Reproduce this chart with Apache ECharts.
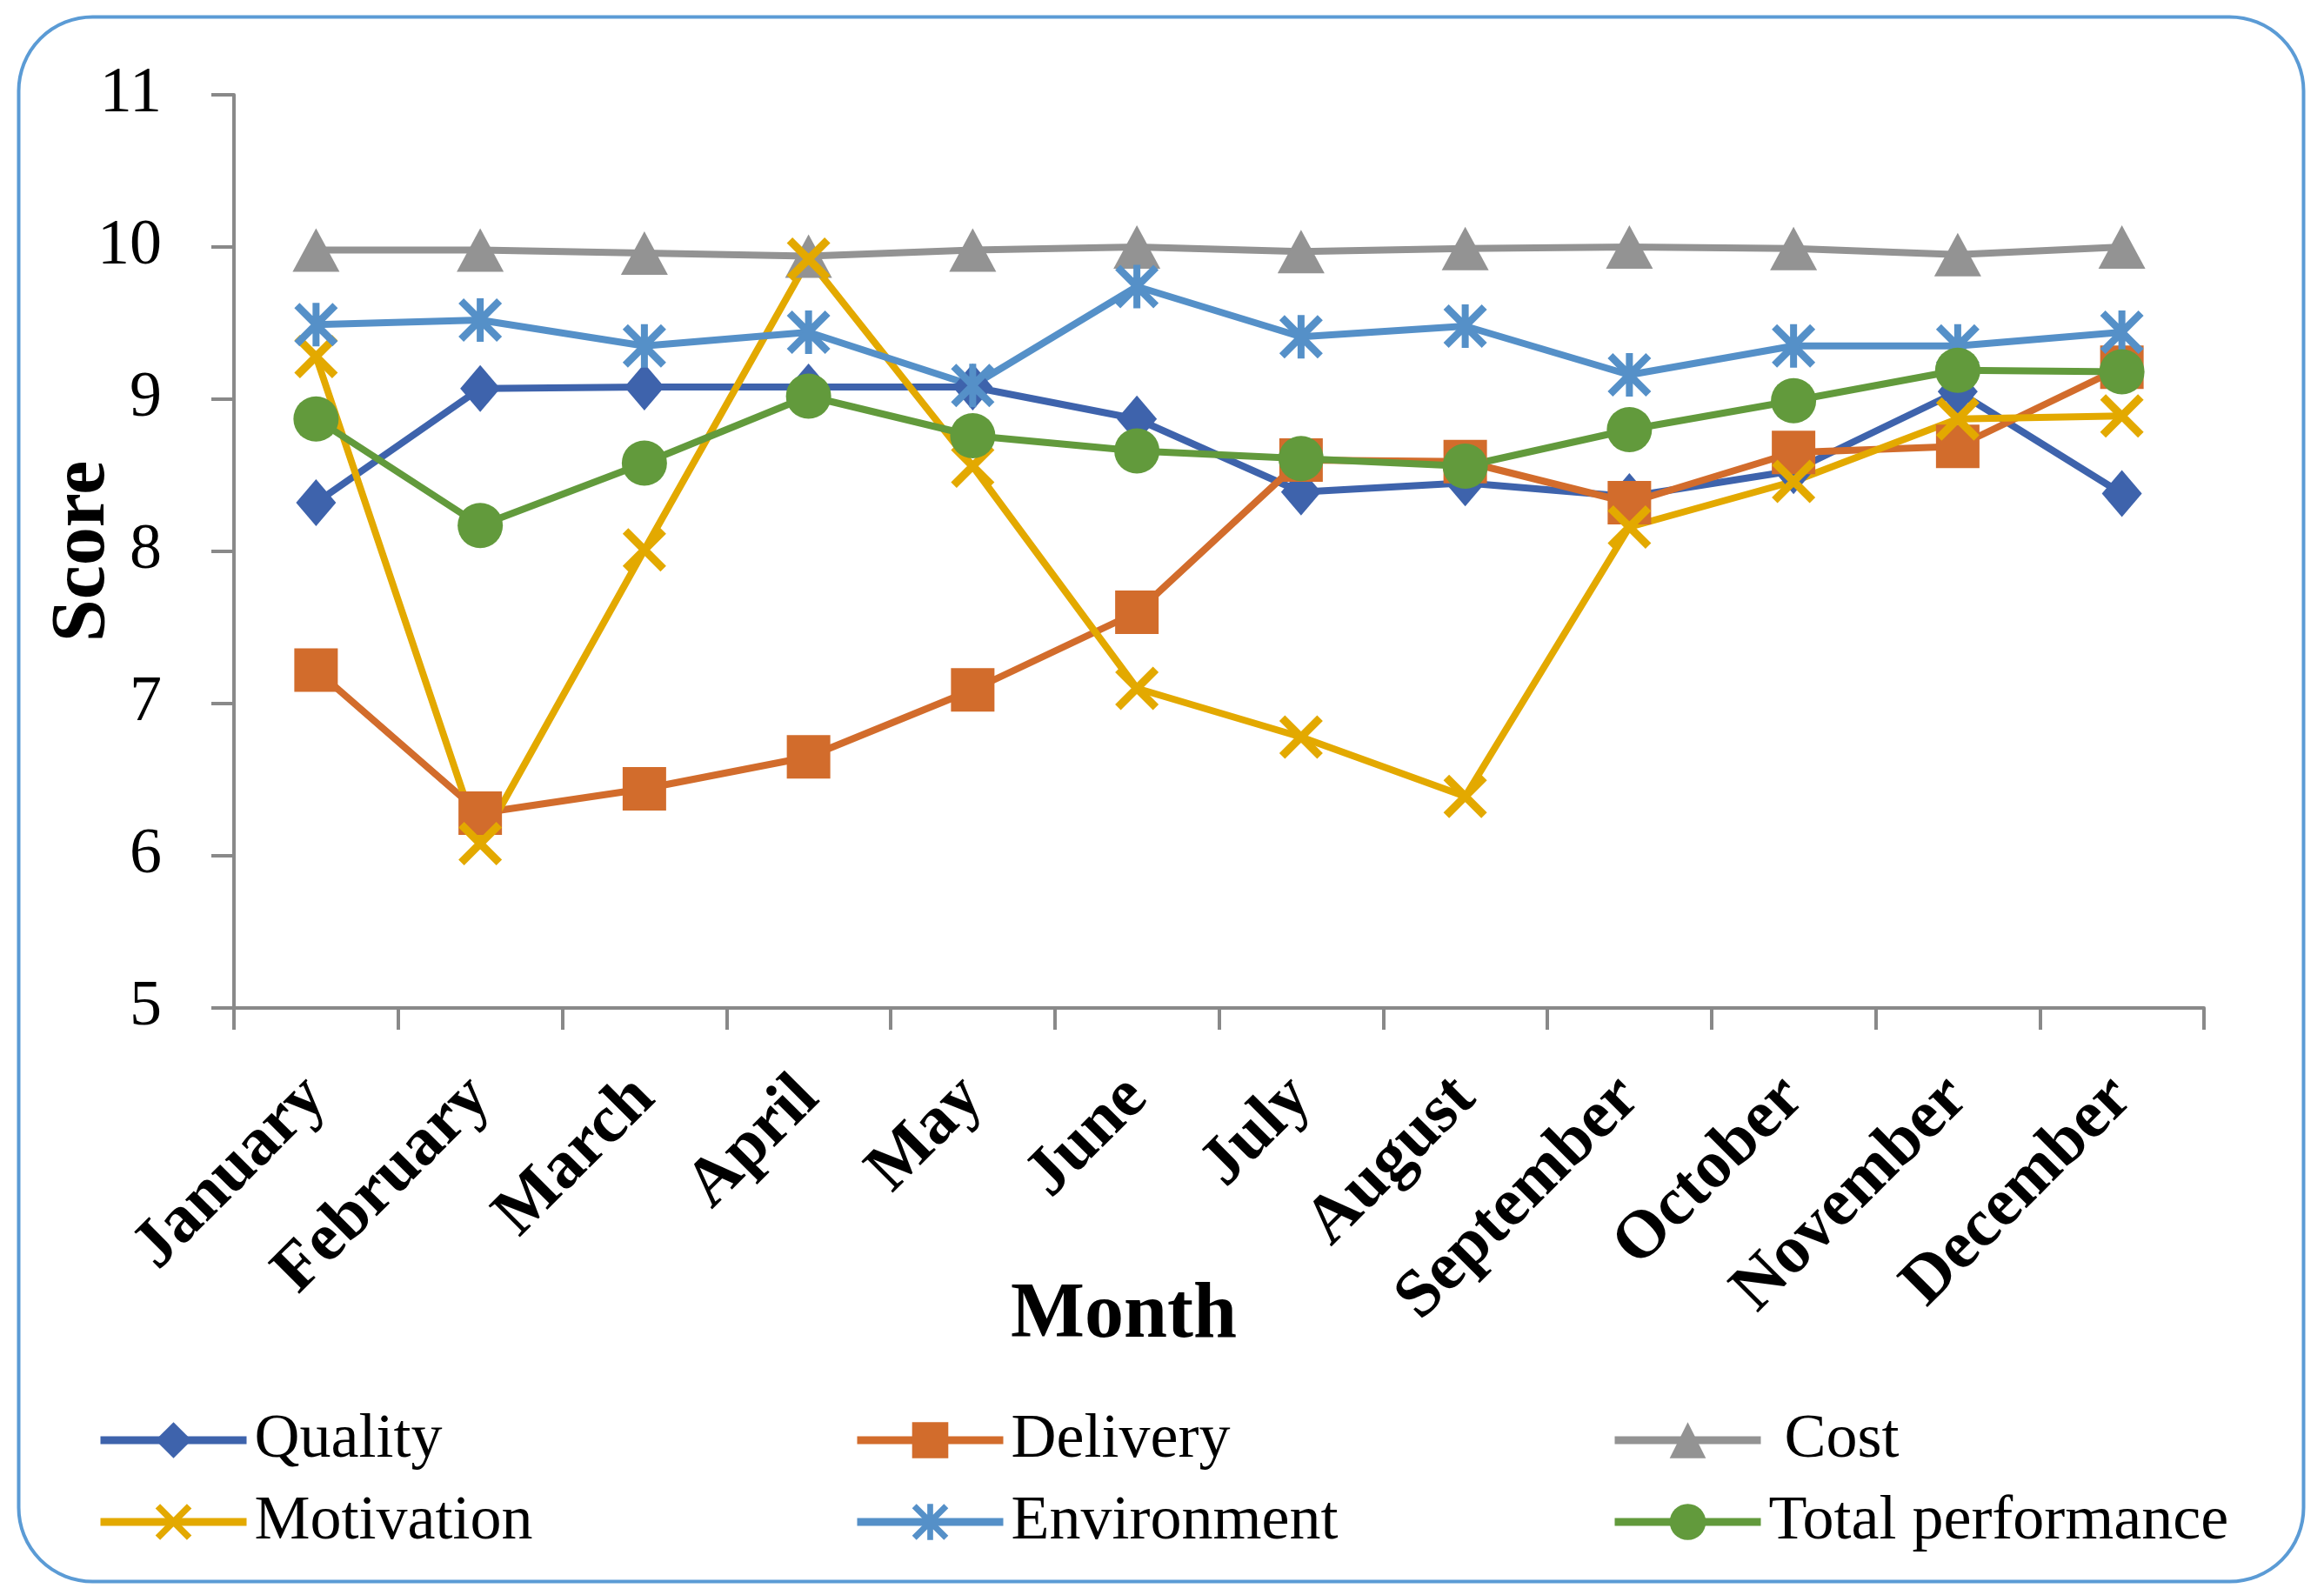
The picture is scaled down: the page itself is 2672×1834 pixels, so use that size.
<!DOCTYPE html>
<html>
<head>
<meta charset="utf-8">
<script src="https://cdn.jsdelivr.net/npm/echarts@6/dist/echarts.min.js"></script>
<style>html,body{margin:0;padding:0;background:#fff;}#c{width:2672px;height:1834px;}</style>
</head>
<body>
<div id="c"></div>
<script>
const months = ['January','February','March','April','May','June','July','August','September','October','November','December'];
const quality = [8.32, 9.07, 9.08, 9.08, 9.08, 8.87, 8.39, 8.45, 8.36, 8.53, 9.05, 8.38];
const delivery = [7.22, 6.28, 6.44, 6.65, 7.09, 7.60, 8.60, 8.59, 8.32, 8.65, 8.69, 9.21];
const cost = [9.98, 9.98, 9.96, 9.94, 9.98, 10.0, 9.97, 9.99, 10.0, 9.99, 9.95, 10.0];
const motivation = [9.28, 6.08, 8.01, 9.92, 8.56, 7.10, 6.78, 6.39, 8.16, 8.46, 8.87, 8.89];
const environment = [9.49, 9.52, 9.35, 9.44, 9.09, 9.74, 9.41, 9.48, 9.16, 9.35, 9.35, 9.44];
const total = [8.87, 8.17, 8.58, 9.02, 8.76, 8.66, 8.61, 8.56, 8.80, 8.99, 9.19, 9.18];
const seriesNames = ['Quality','Delivery',' Cost','Motivation','Environment','Total performance'];
const yTicks = {min: 5, max: 11, interval: 1};

const FONT = 'Liberation Serif';
const X_PATH = 'path://M0 13 L13 0 L100 87 L87 100 Z M87 0 L100 13 L13 100 L0 87 Z';
const STAR_PATH = 'path://M0 12 L12 0 L100 88 L88 100 Z M88 0 L100 12 L12 100 L0 88 Z M42 0 L58 0 L58 100 L42 100 Z';

const chart = echarts.init(document.getElementById('c'), null, {renderer: 'canvas'});

function mk(name, data, color, symbol, size) {
  return {
    name: name, type: 'line', data: data,
    symbol: symbol, symbolSize: size,
    lineStyle: {color: color, width: 8},
    itemStyle: {color: color},
    emphasis: {disabled: true},
    animation: false
  };
}

const colors = ['#3E63AC','#D26C2C','#939393','#E3A900','#5590C8','#629A3C'];
const series = [
  mk(seriesNames[0], quality, colors[0], 'diamond', [46, 54]),
  mk(seriesNames[1], delivery, colors[1], 'rect', 50),
  mk(seriesNames[2], cost, colors[2], 'triangle', [54, 50]),
  mk(seriesNames[3], motivation, colors[3], X_PATH, 50),
  mk(seriesNames[4], environment, colors[4], STAR_PATH, 50),
  mk(seriesNames[5], total, colors[5], 'circle', 52)
];

const legendPos = [[111,1620],[981,1620],[1852,1620],[111,1714],[981,1714],[1852,1714]];
const legends = seriesNames.map((n, i) => ({
  data: [n], left: legendPos[i][0], top: legendPos[i][1], padding: 0,
  itemWidth: 168, itemHeight: 52, itemGap: 0,
  selectedMode: false,
  lineStyle: {width: 9},
  textStyle: {fontFamily: FONT, fontSize: 72, color: '#000', padding: [0,0,0,4]}
}));

chart.setOption({
  backgroundColor: '#fff',
  animation: false,
  grid: {left: 269, right: 138, top: 109, bottom: 675, containLabel: false},
  legend: legends,
  xAxis: {
    type: 'category', data: months, boundaryGap: true,
    axisLine: {lineStyle: {color: '#898989', width: 4}},
    axisTick: {show: true, length: 25, lineStyle: {color: '#898989', width: 4}},
    axisLabel: {rotate: 45, margin: 92, fontFamily: FONT, fontSize: 78, fontWeight: 'bold', color: '#000', interval: 0}
  },
  yAxis: {
    type: 'value', min: yTicks.min, max: yTicks.max, interval: yTicks.interval,
    splitLine: {show: false},
    axisLine: {show: true, lineStyle: {color: '#898989', width: 4}},
    axisTick: {show: true, length: 26, lineStyle: {color: '#898989', width: 4}},
    axisLabel: {margin: 83, fontFamily: FONT, fontSize: 74, color: '#000'}
  },
  graphic: [
    {type: 'rect', left: 19, top: 17, shape: {width: 2627, height: 1799, r: 85}, style: {fill: 'none', stroke: '#5B9BD5', lineWidth: 4}, silent: true},
    {type: 'text', x: 1292, y: 1514, style: {text: 'Month', fontFamily: FONT, fontSize: 90, fontWeight: 'bold', fill: '#000', align: 'center', verticalAlign: 'middle'}},
    {type: 'text', x: 96, y: 634, rotation: Math.PI / 2, style: {text: 'Score', fontFamily: FONT, fontSize: 88, fontWeight: 'bold', fill: '#000', align: 'center', verticalAlign: 'middle'}}
  ],
  series: series
});
</script>
</body>
</html>
